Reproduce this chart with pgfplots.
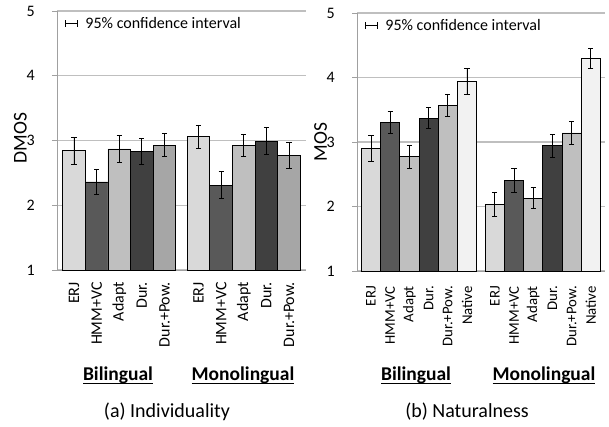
\documentclass[border=0pt]{standalone}
\usepackage{fontspec}
\setmainfont{Carlito}
\usepackage{pgfplots}
\pgfplotsset{compat=1.18}
\definecolor{cERJ}{HTML}{D9D9D9}
\definecolor{cHMM}{HTML}{595959}
\definecolor{cAda}{HTML}{BFBFBF}
\definecolor{cDur}{HTML}{404040}
\definecolor{cDPa}{HTML}{A6A6A6}
\definecolor{cDPb}{HTML}{BFBFBF}
\definecolor{cNat}{HTML}{F2F2F2}
\definecolor{cGrid}{HTML}{BFBFBF}
\definecolor{cAxis}{HTML}{A0A0A0}
\newcommand\ul[1]{\setbox0\hbox{#1}\rlap{\rule[-4pt]{\wd0}{1.4pt}}\box0}
\pgfplotsset{
  b/.style={fill=#1, draw=black, line width=0.8pt, bar shift=0pt,
    error bars/.cd, y dir=both, y explicit,
    error bar style={line width=0.8pt, black},
    error mark options={rotate=90, mark size=2.6pt, line width=0.8pt, black}},
  common/.style={
    scale only axis, ybar, bar width=1,
    ymin=1, ymax=5, ytick={1,2,3,4,5},
    axis lines*=left, axis line style={draw=cAxis, line width=0.9pt},
    ymajorgrids, major grid style={draw=cGrid, line width=1.1pt},
    tick align=outside, major tick length=5pt,
    ytick style={draw=cAxis, line width=0.9pt},
    xtick style={draw=none},
    /pgf/number format/assume math mode=true,
    yticklabel style={font=\fontsize{16}{19}\selectfont, anchor=east, inner sep=0pt},
    yticklabel shift=17pt,
    xticklabel style={rotate=90, anchor=east, inner sep=0pt},
    legend style={at={(axis description cs:0.03,0.985)}, anchor=north west,
      draw=none, fill=none, font=\fontsize{16}{19}\selectfont, inner sep=0pt,
      /tikz/every odd column/.append style={column sep=6pt}},
    legend image code/.code={\draw[black, line width=0.8pt] (0pt,-3.5pt)--(0pt,3.5pt) (0pt,0pt)--(12pt,0pt) (12pt,-3.5pt)--(12pt,3.5pt);},
  },
}
\begin{document}
\begin{tikzpicture}
\useasboundingbox (0pt,0pt) rectangle (609pt,-426pt);
% (a) Individuality
\begin{axis}[common,
  at={(57pt,-270pt)}, anchor=south west, width=249pt, height=259pt,
  xmin=0, xmax=11,
  xtick={0.75,1.75,2.75,3.75,4.75,6.25,7.25,8.25,9.25,10.25},
  xticklabels={ERJ,HMM+VC,Adapt,Dur.,Dur.+Pow.,ERJ,HMM+VC,Adapt,Dur.,Dur.+Pow.},
  xticklabel style={font=\fontsize{16}{19}\selectfont},
  xticklabel shift=7pt,
  ylabel={DMOS},
  ylabel style={at={(axis description cs:-0.147,0.51)}, anchor=center, font=\fontsize{19.5}{23}\selectfont},
]
\addlegendimage{}
\addlegendentry{95\% confidence interval}
\addplot[b=cERJ] coordinates {(0.75,2.84) +- (0,0.215) (6.25,3.06) +- (0,0.18)};
\addplot[b=cHMM] coordinates {(1.75,2.36) +- (0,0.19) (7.25,2.31) +- (0,0.21)};
\addplot[b=cAda] coordinates {(2.75,2.87) +- (0,0.21) (8.25,2.93) +- (0,0.17)};
\addplot[b=cDur] coordinates {(3.75,2.83) +- (0,0.195) (9.25,2.99) +- (0,0.205)};
\addplot[b=cDPa] coordinates {(4.75,2.93) +- (0,0.175) (10.25,2.77) +- (0,0.20)};
\end{axis}
% (b) Naturalness
\begin{axis}[common,
  at={(357pt,-271pt)}, anchor=south west, width=248pt, height=258pt,
  xmin=0, xmax=12.92,
  xtick={0.73,1.73,2.73,3.73,4.73,5.73,7.18,8.18,9.18,10.18,11.18,12.18},
  xticklabels={ERJ,HMM+VC,Adapt,Dur.,Dur.+Pow.,Native,ERJ,HMM+VC,Adapt,Dur.,Dur.+Pow.,Native},
  xticklabel style={font=\fontsize{14.8}{17}\selectfont},
  xticklabel shift=10pt,
  ylabel={MOS},
  ylabel style={at={(axis description cs:-0.147,0.5)}, anchor=center, font=\fontsize{19.5}{23}\selectfont},
]
\addlegendimage{}
\addlegendentry{95\% confidence interval}
\addplot[b=cERJ] coordinates {(0.73,2.90) +- (0,0.205) (7.18,2.03) +- (0,0.185)};
\addplot[b=cHMM] coordinates {(1.73,3.31) +- (0,0.17) (8.18,2.40) +- (0,0.185)};
\addplot[b=cAda] coordinates {(2.73,2.77) +- (0,0.18) (9.18,2.13) +- (0,0.16)};
\addplot[b=cDur] coordinates {(3.73,3.37) +- (0,0.165) (10.18,2.94) +- (0,0.18)};
\addplot[b=cDPb] coordinates {(4.73,3.57) +- (0,0.175) (11.18,3.14) +- (0,0.175)};
\addplot[b=cNat] coordinates {(5.73,3.94) +- (0,0.195) (12.18,4.29) +- (0,0.155)};
\end{axis}
\node[anchor=base, font=\bfseries\fontsize{19.5}{23}\selectfont] at (118pt,-380pt) {\ul{Bilingual}};
\node[anchor=base, font=\bfseries\fontsize{19.5}{23}\selectfont] at (243pt,-380pt) {\ul{Monolingual}};
\node[anchor=base, font=\bfseries\fontsize{19.5}{23}\selectfont] at (416pt,-380pt) {\ul{Bilingual}};
\node[anchor=base, font=\bfseries\fontsize{19.5}{23}\selectfont] at (544pt,-380pt) {\ul{Monolingual}};
\node[anchor=base, font=\fontsize{20}{24}\selectfont] at (167pt,-417pt) {(a) Individuality};
\node[anchor=base, font=\fontsize{20}{24}\selectfont] at (467pt,-417pt) {(b) Naturalness};
\end{tikzpicture}
\end{document}
